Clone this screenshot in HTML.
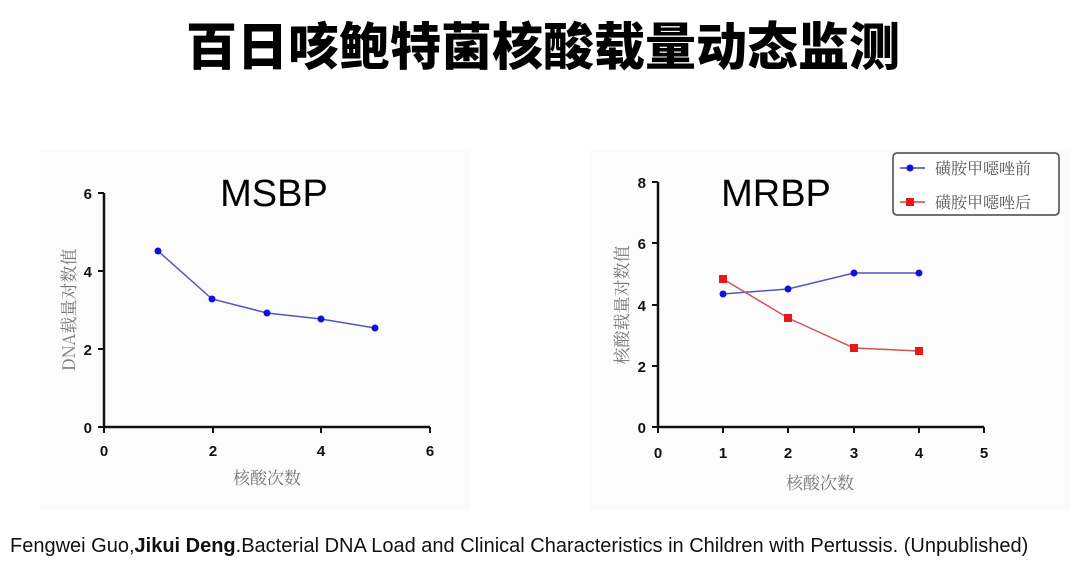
<!DOCTYPE html>
<html><head><meta charset="utf-8"><style>
html,body{margin:0;padding:0;background:#fff;}
body{width:1080px;height:577px;position:relative;overflow:hidden;font-family:"Liberation Sans","Noto Sans CJK SC",sans-serif;}
.title{position:absolute;left:0;width:1086px;top:10px;text-align:center;font-family:"Noto Sans CJK SC",sans-serif;font-weight:900;font-size:51px;line-height:66px;color:#000;}
.foot{position:absolute;left:10px;top:535px;font-size:20px;color:#111;font-family:"Liberation Sans","Noto Sans CJK SC",sans-serif;white-space:nowrap;}
svg{position:absolute;left:0;top:0;}
</style></head><body>
<div class="title">百日咳鲍特菌核酸载量动态监测</div>
<svg width="1080" height="577" xmlns="http://www.w3.org/2000/svg">
<rect x="40" y="150" width="430" height="360" fill="#fcfcfc"/>
<rect x="590" y="150" width="480" height="360" fill="#fcfcfc"/>
<g font-family="Liberation Sans, sans-serif" font-weight="bold" font-size="15" fill="#111">
<path d="M104,193 V427 H430" stroke="#111" stroke-width="2.5" fill="none"/>
<g stroke="#111" stroke-width="2">
<line x1="98" y1="193" x2="104" y2="193"/><line x1="98" y1="271" x2="104" y2="271"/><line x1="98" y1="349" x2="104" y2="349"/><line x1="98" y1="427" x2="104" y2="427"/>
<line x1="104" y1="427" x2="104" y2="433"/><line x1="213" y1="427" x2="213" y2="433"/><line x1="321" y1="427" x2="321" y2="433"/><line x1="430" y1="427" x2="430" y2="433"/>
</g>
<text x="92" y="199" text-anchor="end">6</text><text x="92" y="277" text-anchor="end">4</text><text x="92" y="355" text-anchor="end">2</text><text x="92" y="433" text-anchor="end">0</text>
<text x="104" y="456" text-anchor="middle">0</text><text x="213" y="456" text-anchor="middle">2</text><text x="321" y="456" text-anchor="middle">4</text><text x="430" y="456" text-anchor="middle">6</text>
<path d="M658,182 V427 H984" stroke="#111" stroke-width="2.5" fill="none"/>
<g stroke="#111" stroke-width="2">
<line x1="652" y1="182" x2="658" y2="182"/><line x1="652" y1="243" x2="658" y2="243"/><line x1="652" y1="305" x2="658" y2="305"/><line x1="652" y1="366" x2="658" y2="366"/><line x1="652" y1="427" x2="658" y2="427"/>
<line x1="658" y1="427" x2="658" y2="433"/><line x1="723" y1="427" x2="723" y2="433"/><line x1="788" y1="427" x2="788" y2="433"/><line x1="854" y1="427" x2="854" y2="433"/><line x1="919" y1="427" x2="919" y2="433"/><line x1="984" y1="427" x2="984" y2="433"/>
</g>
<text x="646" y="188" text-anchor="end">8</text><text x="646" y="249" text-anchor="end">6</text><text x="646" y="311" text-anchor="end">4</text><text x="646" y="372" text-anchor="end">2</text><text x="646" y="433" text-anchor="end">0</text>
<text x="658" y="458" text-anchor="middle">0</text><text x="723" y="458" text-anchor="middle">1</text><text x="788" y="458" text-anchor="middle">2</text><text x="854" y="458" text-anchor="middle">3</text><text x="919" y="458" text-anchor="middle">4</text><text x="984" y="458" text-anchor="middle">5</text>
</g>
<text x="274" y="206" text-anchor="middle" font-family="Liberation Sans, sans-serif" font-size="38" fill="#000">MSBP</text>
<text x="776" y="206" text-anchor="middle" font-family="Liberation Sans, sans-serif" font-size="38" fill="#000">MRBP</text>
<g font-family="Noto Serif CJK SC, serif" font-size="17" fill="#777">
<text x="267" y="484" text-anchor="middle">核酸次数</text>
<text x="820" y="489" text-anchor="middle">核酸次数</text>
<text transform="translate(75,310) rotate(-90)" text-anchor="middle">DNA载量对数值</text>
<text transform="translate(628,305) rotate(-90)" text-anchor="middle">核酸载量对数值</text>
</g>
<polyline points="158,251 212,299 267,313 321,319 375,328" fill="none" stroke="#5555bb" stroke-width="1.5"/>
<g fill="#1010dd"><circle cx="158" cy="251" r="3.5"/><circle cx="212" cy="299" r="3.5"/><circle cx="267" cy="313" r="3.5"/><circle cx="321" cy="319" r="3.5"/><circle cx="375" cy="328" r="3.5"/></g>
<polyline points="723,294 788,289 854,273 919,273" fill="none" stroke="#5555bb" stroke-width="1.5"/>
<g fill="#1010dd"><circle cx="723" cy="294" r="3.5"/><circle cx="788" cy="289" r="3.5"/><circle cx="854" cy="273" r="3.5"/><circle cx="919" cy="273" r="3.5"/></g>
<polyline points="723,279 788,318 854,348 919,351" fill="none" stroke="#cc5555" stroke-width="1.5"/>
<g fill="#e81818"><rect x="719" y="275" width="8" height="8"/><rect x="784" y="314" width="8" height="8"/><rect x="850" y="344" width="8" height="8"/><rect x="915" y="347" width="8" height="8"/></g>
<rect x="893" y="153" width="166" height="62" rx="4" fill="#fff" stroke="#444" stroke-width="1.5"/>
<line x1="900" y1="168" x2="925" y2="168" stroke="#4444bb" stroke-width="1.5"/><circle cx="910" cy="168" r="3.5" fill="#1010dd"/>
<line x1="900" y1="202" x2="925" y2="202" stroke="#cc4444" stroke-width="1.5"/><rect x="906" y="198" width="8" height="8" fill="#e81818"/>
<g font-family="Noto Serif CJK SC, serif" font-size="16" fill="#555">
<text x="935" y="174">磺胺甲噁唑前</text>
<text x="935" y="208">磺胺甲噁唑后</text>
</g>
</svg>
<div class="foot">Fengwei Guo,<b>Jikui Deng</b>.Bacterial DNA Load and Clinical Characteristics in Children with Pertussis. (Unpublished)</div>
</body></html>
